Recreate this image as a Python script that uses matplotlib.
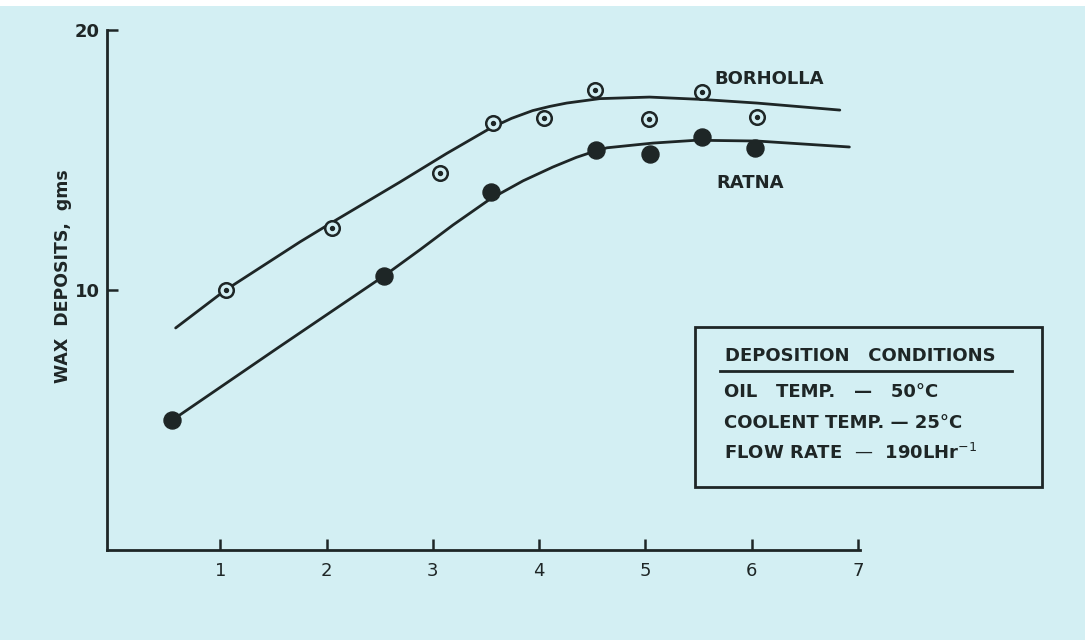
import numpy as np
import matplotlib
matplotlib.use('Agg')
import matplotlib.pyplot as plt
from matplotlib.patches import Rectangle
from matplotlib.lines import Line2D

############# data ###############################################################

# measured points
borholla_x = [1.05, 2.05, 3.07, 3.57, 4.05, 4.53, 5.03, 5.53, 6.05]
borholla_y = [10.0, 12.38, 14.5, 16.42, 16.62, 17.69, 16.56, 17.62, 16.65]
ratna_x = [0.55, 2.54, 3.55, 4.54, 5.04, 5.53, 6.03]
ratna_y = [5.0, 10.55, 13.77, 15.4, 15.23, 15.88, 15.46]

# hand drawn fit curves
borholla_curve_x = [0.58, 1.05, 1.75, 2.06, 2.69, 3.13, 3.54, 3.74, 3.94, 4.10, 4.26, 4.57,
                    5.04, 5.53, 6.05, 6.83]
borholla_curve_y = [8.54, 10.0, 11.85, 12.62, 14.15, 15.25, 16.22, 16.6, 16.9, 17.06, 17.19,
                    17.36, 17.42, 17.33, 17.19, 16.92]
ratna_curve_x = [0.55, 1.54, 2.54, 2.88, 3.19, 3.54, 3.85, 4.13, 4.35, 4.54, 4.64, 5.07,
                 5.48, 6.05, 6.92]
ratna_curve_y = [5.0, 7.77, 10.54, 11.55, 12.5, 13.5, 14.2, 14.73, 15.1, 15.36, 15.47, 15.65,
                 15.76, 15.73, 15.5]

x_ticks = [1, 2, 3, 4, 5, 6, 7]
y_ticks = [10, 20]

conditions = ['OIL   TEMP.   \u2014   50\u00b0C',
              'COOLENT TEMP. \u2014 25\u00b0C',
              'FLOW RATE  \u2014  190LHr$^{-1}$']

############ plot #################################################################

bg = '#d3eff3'
ink = '#1e2626'

fig = plt.figure(figsize=(10.85, 6.4), dpi=100)
fig.patch.set_facecolor(bg)
fig.patches.append(Rectangle((0, 1 - 6 / 640), 1, 6 / 640, transform=fig.transFigure,
                             facecolor='white', edgecolor='none', zorder=0))

ax = fig.add_axes([107 / 1085, 90 / 640, 753 / 1085, 520 / 640])
ax.set_facecolor('none')

ax.plot(borholla_curve_x, borholla_curve_y, color=ink, lw=2.0, solid_capstyle='round',
        solid_joinstyle='round', zorder=2)
ax.plot(ratna_curve_x, ratna_curve_y, color=ink, lw=2.0, solid_capstyle='round',
        solid_joinstyle='round', zorder=2)

ax.scatter(borholla_x, borholla_y, s=110, facecolor=bg, edgecolor=ink, lw=1.8, zorder=3)
ax.scatter(borholla_x, borholla_y, s=8, color=ink, zorder=4)
ax.scatter(ratna_x, ratna_y, s=150, color=ink, zorder=3)

ax.set_xlim(-0.066, 7.02)
ax.set_ylim(0, 20)
ax.set_xticks(x_ticks)
ax.set_yticks(y_ticks)
ax.spines['top'].set_visible(False)
ax.spines['right'].set_visible(False)
for s in ['left', 'bottom']:
    ax.spines[s].set_linewidth(2)
    ax.spines[s].set_color(ink)
ax.tick_params(direction='in', length=8, width=1.8, color=ink, labelcolor=ink,
               labelsize=13)
ax.tick_params(axis='x', pad=9)
ax.tick_params(axis='y', pad=5)
for lab in ax.get_yticklabels():
    lab.set_fontweight('bold')

ax.set_ylabel('WAX  DEPOSITS,  gms', fontsize=12.5, fontweight='bold', color=ink)
ax.yaxis.set_label_coords(-0.047, 0.527)

ax.text(5.65, 18.1, 'BORHOLLA', fontsize=13, fontweight='bold', color=ink, ha='left', va='center')
ax.text(5.67, 14.1, 'RATNA', fontsize=13, fontweight='bold', color=ink, ha='left', va='center')

# deposition conditions box
fig.patches.append(Rectangle((695 / 1085, 1 - 487 / 640), 347 / 1085, 160 / 640,
                             transform=fig.transFigure, facecolor='none',
                             edgecolor=ink, lw=2, zorder=5))
fig.text(725 / 1085, 1 - 356 / 640, 'DEPOSITION   CONDITIONS', fontsize=13, fontweight='bold',
         color=ink, ha='left', va='center')
fig.lines.append(Line2D([720 / 1085, 1012 / 1085], [1 - 371 / 640, 1 - 371 / 640],
                        transform=fig.transFigure, color=ink, lw=2))
for i, line in enumerate(conditions):
    fig.text(724 / 1085, 1 - (392 + 30.5 * i) / 640, line, fontsize=13, fontweight='bold',
             color=ink, ha='left', va='center')

fig.savefig('out.png', dpi=100, facecolor=bg)
